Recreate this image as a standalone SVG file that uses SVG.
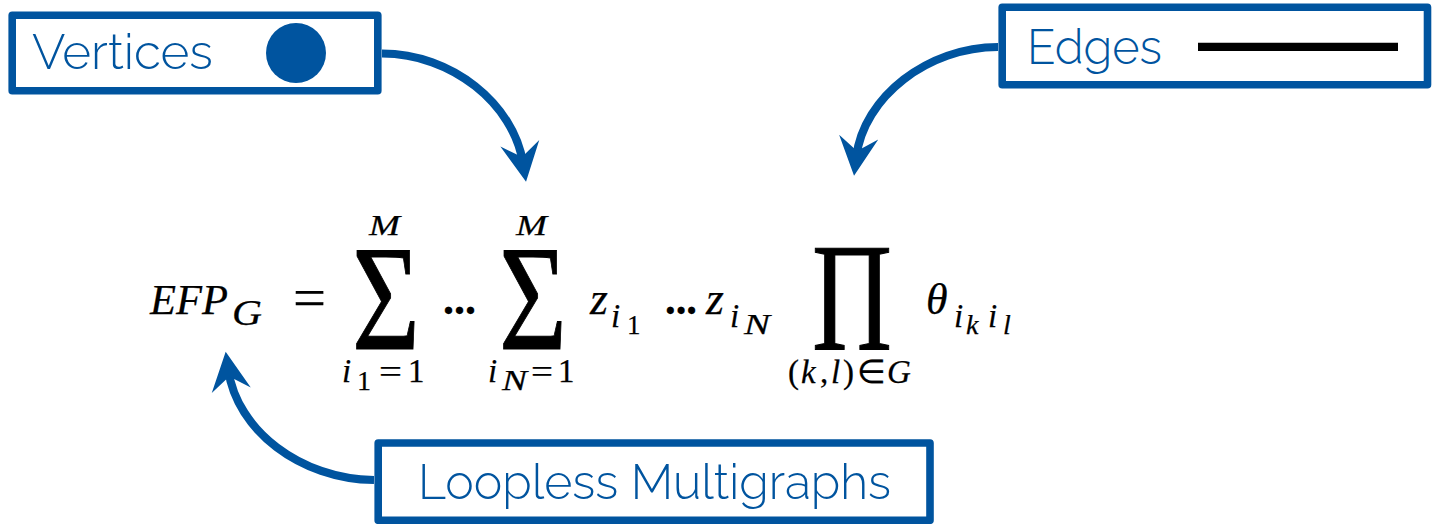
<svg xmlns="http://www.w3.org/2000/svg" width="1432" height="524" viewBox="0 0 1432 524">
<style>
.box{fill:#fff;stroke:#00549F;stroke-width:7.6;stroke-linejoin:round}
.lbl{font-family:Raleway,Lato,"Open Sans",sans-serif;font-weight:300;font-size:48px;fill:#00549F}
.conn{fill:none;stroke:#00549F;stroke-width:8.2}
.f{font-family:"Liberation Serif","Times New Roman",serif;fill:#000;stroke:#000;stroke-width:0.25}
.i{font-style:italic}
.big{stroke-width:1}
</style>
<defs>
<marker id="ah" markerUnits="userSpaceOnUse" orient="auto" markerWidth="40" markerHeight="42" refX="20" refY="21" viewBox="0 0 40 42" overflow="visible">
<path d="M0,1.3 L39,21 L0,40.7 L14,21 Z" fill="#00549F"/>
</marker>
</defs>
<g id="connectors">
<path class="conn" d="M382,53.5 C452,53.5 513.5,104 523,163" marker-end="url(#ah)"/>
<path class="conn" d="M998,47 C928,47 863.5,97 856.3,157" marker-end="url(#ah)"/>
<path class="conn" d="M374,480 C300,479 237,430 228.4,370.5" marker-end="url(#ah)"/>
</g>
<g id="vertices">
<rect class="box" x="12.2" y="15.3" width="365.6" height="75.5"/>
<text class="lbl" x="32" y="69" textLength="181" lengthAdjust="spacingAndGlyphs">Vertices</text>
<circle cx="296" cy="53" r="30" fill="#00549F"/>
</g>
<g id="edges">
<rect class="box" x="1002.2" y="7.2" width="425.3" height="77.5"/>
<text class="lbl" x="1027" y="64" textLength="135" lengthAdjust="spacingAndGlyphs">Edges</text>
<line x1="1198" y1="46.8" x2="1398" y2="46.8" stroke="#000" stroke-width="8.3"/>
</g>
<g id="loopless">
<rect class="box" x="378.2" y="443" width="551.8" height="77.3"/>
<text class="lbl" x="418" y="499" textLength="473" lengthAdjust="spacingAndGlyphs">Loopless Multigraphs</text>
</g>
<g id="formula">
<text class="f"><tspan class="i" x="150" y="314" font-size="43" textLength="78" lengthAdjust="spacingAndGlyphs">EFP</tspan><tspan class="i" x="232" y="325" font-size="35" textLength="30" lengthAdjust="spacingAndGlyphs">G</tspan><tspan x="293" y="317" font-size="56" textLength="33" lengthAdjust="spacingAndGlyphs">=</tspan><tspan class="i" x="369" y="235" font-size="30" textLength="31" lengthAdjust="spacingAndGlyphs">M</tspan><tspan class="big" x="352" y="348.5" font-size="151" textLength="68" lengthAdjust="spacingAndGlyphs">Σ</tspan><tspan class="i" x="342" y="382" font-size="33">i</tspan><tspan x="357" y="390" font-size="28">1</tspan><tspan x="379" y="383" font-size="34" textLength="23" lengthAdjust="spacingAndGlyphs">=</tspan><tspan x="408" y="382" font-size="33">1</tspan><tspan x="443" y="314" font-size="44" font-weight="bold" textLength="33" lengthAdjust="spacingAndGlyphs">...</tspan><tspan class="i" x="516" y="235" font-size="30" textLength="31" lengthAdjust="spacingAndGlyphs">M</tspan><tspan class="big" x="499" y="348.5" font-size="151" textLength="68" lengthAdjust="spacingAndGlyphs">Σ</tspan><tspan class="i" x="488" y="382" font-size="33">i</tspan><tspan class="i" x="502" y="390" font-size="30" textLength="25" lengthAdjust="spacingAndGlyphs">N</tspan><tspan x="531" y="383" font-size="34" textLength="22" lengthAdjust="spacingAndGlyphs">=</tspan><tspan x="558" y="382" font-size="33">1</tspan><tspan class="i" x="590" y="314" font-size="46">z</tspan><tspan class="i" x="611" y="327" font-size="33">i</tspan><tspan x="627" y="334" font-size="27">1</tspan><tspan x="665" y="314" font-size="44" font-weight="bold" textLength="32" lengthAdjust="spacingAndGlyphs">...</tspan><tspan class="i" x="706" y="314" font-size="46">z</tspan><tspan class="i" x="730" y="327" font-size="33">i</tspan><tspan class="i" x="744" y="334" font-size="30" textLength="26" lengthAdjust="spacingAndGlyphs">N</tspan><tspan class="big" x="812" y="350" font-size="154" textLength="80" lengthAdjust="spacingAndGlyphs">Π</tspan><tspan x="788" y="383" font-size="33">(</tspan><tspan class="i" x="801" y="383" font-size="33">k</tspan><tspan x="820" y="383" font-size="33">,</tspan><tspan class="i" x="831" y="383" font-size="33">l</tspan><tspan x="843" y="383" font-size="33">)</tspan><tspan x="857" y="383" font-size="33">∈</tspan><tspan class="i" x="887" y="383" font-size="33">G</tspan><tspan class="i" x="926" y="314" font-size="44">θ</tspan><tspan class="i" x="954" y="327" font-size="33">i</tspan><tspan class="i" x="966" y="334" font-size="28">k</tspan><tspan class="i" x="988" y="327" font-size="33">i</tspan><tspan class="i" x="1003" y="334" font-size="28">l</tspan></text>
</g>
</svg>
